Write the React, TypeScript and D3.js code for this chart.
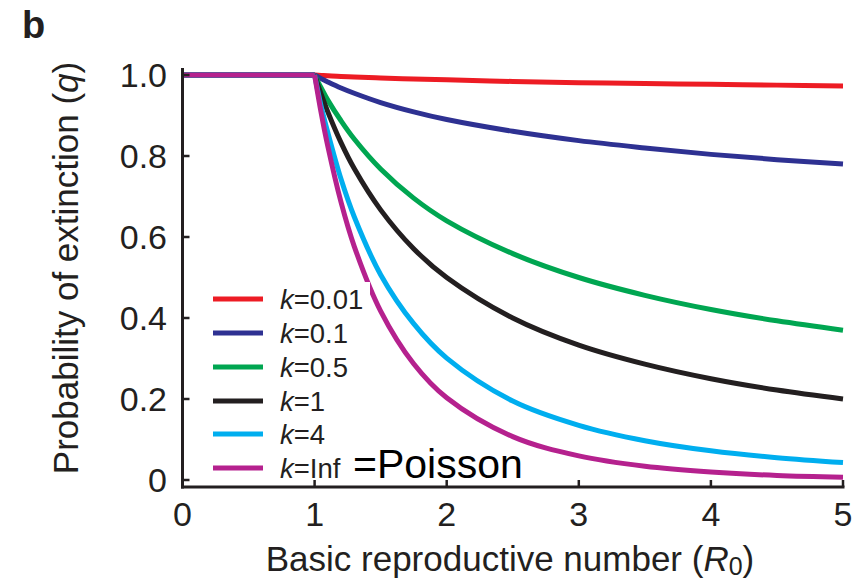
import React from "react";
import * as d3 from "d3";

const R0 = [0, 1, 1.05, 1.1, 1.2, 1.3, 1.5, 1.75, 2, 2.5, 3, 3.5, 4, 4.5, 5];
const qK001 = [1, 1, 0.999, 0.998, 0.996, 0.995, 0.9925, 0.99, 0.988, 0.984, 0.981, 0.979, 0.977, 0.975, 0.973];
const qK01 = [1, 1, 0.991, 0.983, 0.968, 0.955, 0.932, 0.909, 0.89, 0.861, 0.838, 0.82, 0.804, 0.791, 0.78];
const qK05 = [1, 1, 0.968, 0.938, 0.887, 0.842, 0.768, 0.696, 0.64, 0.559, 0.5, 0.456, 0.421, 0.393, 0.37];
const qK1 = [1, 1, 0.952, 0.909, 0.833, 0.769, 0.667, 0.571, 0.5, 0.4, 0.333, 0.286, 0.25, 0.222, 0.2];
const qK4 = [1, 1, 0.922, 0.858, 0.743, 0.65, 0.507, 0.386, 0.301, 0.195, 0.135, 0.097, 0.072, 0.055, 0.043];
const qPoisson = [1, 1, 0.906, 0.824, 0.686, 0.577, 0.417, 0.287, 0.203, 0.107, 0.0595, 0.034, 0.0198, 0.0112, 0.007];

const seriesLabels = ["0.01", "0.1", "0.5", "1", "4", "Inf"];
const seriesValues = [qK001, qK01, qK05, qK1, qK4, qPoisson];
const seriesColors = ["#ED1C24", "#2E3192", "#00A651", "#231F20", "#00AEEF", "#B5218E"];

const xTicks = [0, 1, 2, 3, 4, 5];
const yTicks = [0, 0.2, 0.4, 0.6, 0.8, 1.0];
const yTickLabels = ["0", "0.2", "0.4", "0.6", "0.8", "1.0"];

const FONT = "'Liberation Sans', Arial, Helvetica, sans-serif";
const AX = "#231F20";

export default function App() {
  const x = d3.scaleLinear().domain([0, 5]).range([182.5, 843]);
  const y = d3.scaleLinear().domain([0, 1]).range([480, 75]);

  const lineFlat = d3
    .line<number>()
    .x((_, i) => x(R0[i]))
    .y((d) => y(d));

  const curveLine = d3
    .line<[number, number]>()
    .x((d) => x(d[0]))
    .y((d) => y(d[1]))
    .curve(d3.curveCatmullRom.alpha(0.5));

  const legendRows = [299, 333, 367, 401, 434, 468];

  return (
    <svg
      width={865}
      height={582}
      style={{ position: "absolute", left: 0, top: 0, background: "#fff" }}
      fontFamily={FONT}
    >
      <rect x={0} y={0} width={865} height={582} fill="#fff" />
      <text x={22} y={38} fontSize={38} fontWeight="bold" fill={AX}>
        b
      </text>

      {/* curves */}
      {seriesValues.map((vals, si) => {
        const pts: [number, number][] = [];
        R0.forEach((r, i) => {
          if (r >= 1) pts.push([r, vals[i]]);
        });
        const flat = vals.slice(0, 2);
        return (
          <g key={si}>
            <path
              d={curveLine(pts) || ""}
              fill="none"
              stroke={seriesColors[si]}
              strokeWidth={5}
              strokeLinejoin="round"
            />
            <path
              d={lineFlat(flat) || ""}
              fill="none"
              stroke={seriesColors[si]}
              strokeWidth={5}
            />
          </g>
        );
      })}

      {/* axes */}
      <line x1={182.5} y1={68} x2={182.5} y2={488.5} stroke={AX} strokeWidth={3} />
      <line x1={181} y1={487} x2={844.5} y2={487} stroke={AX} strokeWidth={3} />
      {yTicks.map((t, i) => (
        <g key={"y" + i}>
          <line x1={182.5} x2={189.5} y1={y(t)} y2={y(t)} stroke={AX} strokeWidth={2.5} />
          <text x={167} y={y(t) + 12} fontSize={34} textAnchor="end" fill={AX}>
            {yTickLabels[i]}
          </text>
        </g>
      ))}
      {xTicks.map((t, i) => (
        <g key={"x" + i}>
          <line x1={x(t)} x2={x(t)} y1={487} y2={480} stroke={AX} strokeWidth={2.5} />
          <text x={x(t)} y={526} fontSize={34} textAnchor="middle" fill={AX}>
            {t}
          </text>
        </g>
      ))}

      {/* axis titles */}
      <text
        transform="translate(78,268) rotate(-90)"
        fontSize={35}
        textAnchor="middle"
        fill={AX}
      >
        Probability of extinction (<tspan fontStyle="italic">q</tspan>)
      </text>
      <text x={510} y={571} fontSize={35} textAnchor="middle" fill={AX}>
        Basic reproductive number (<tspan fontStyle="italic">R</tspan>
        <tspan fontSize={25} dy={4}>0</tspan>
        <tspan dy={-4}>)</tspan>
      </text>

      {/* legend */}
      <rect x={277} y={282} width={93} height={34} fill="#fff" />
      {seriesLabels.map((lab, i) => (
        <g key={"l" + i}>
          <line
            x1={213}
            x2={263}
            y1={legendRows[i]}
            y2={legendRows[i]}
            stroke={seriesColors[i]}
            strokeWidth={5}
          />
          <text x={280} y={legendRows[i] + 10} fontSize={27.5} fill={AX}>
            <tspan fontStyle="italic">k</tspan>={lab}
          </text>
        </g>
      ))}
      <text x={353} y={478} fontSize={41} fill="#000">
        =Poisson
      </text>
    </svg>
  );
}
